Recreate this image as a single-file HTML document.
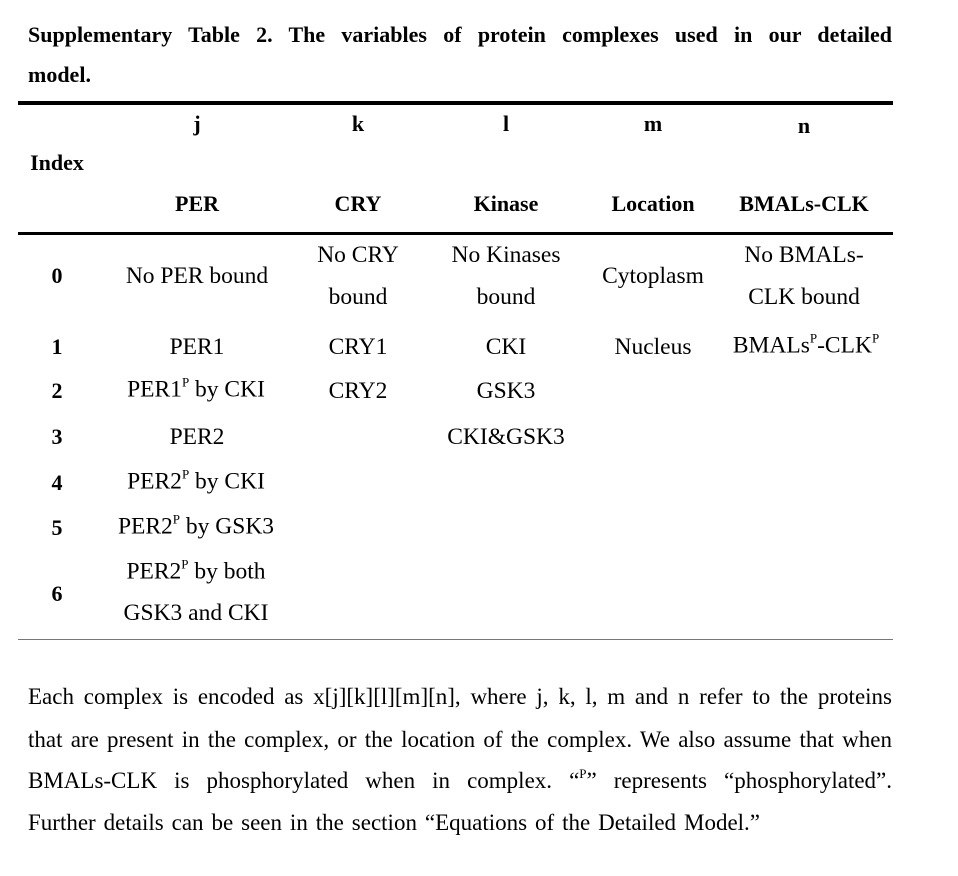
<!DOCTYPE html>
<html><head><meta charset="utf-8"><style>
body{margin:0;width:958px;height:876px;background:#fff;position:relative;font-family:"Liberation Serif",serif;color:#000;overflow:hidden}
.t{position:absolute;white-space:nowrap;font-size:23.5px;line-height:26px;transform:translate(-50%,-50%)}
.t.b{font-size:22px}
.l{position:absolute;font-size:21px;line-height:24px;white-space:nowrap}
.b{font-weight:bold}
sup{font-size:13px;vertical-align:0;position:relative;top:-10px}
.rule{position:absolute;left:18px;width:875px;background:#000}
.j{position:absolute;left:28px;width:864px;font-size:22px;text-align:justify;text-align-last:justify;white-space:nowrap}
.p{position:absolute;left:28px;font-size:23px;line-height:28px;white-space:nowrap;transform-origin:0 0;display:inline-block}
</style></head><body>
<div class="j b" style="top:22px;line-height:26px">Supplementary Table 2. The variables of protein complexes used in our detailed</div>
<div class="l b" style="left:28px;top:63px;font-size:22px">model.</div>
<div class="rule" style="top:101px;height:4px"></div>
<div class="t b" style="left:197px;top:124px">j</div>
<div class="t b" style="left:358px;top:124px">k</div>
<div class="t b" style="left:506px;top:124px">l</div>
<div class="t b" style="left:653px;top:124px">m</div>
<div class="t b" style="left:804px;top:126px">n</div>
<div class="t b" style="left:57px;top:163px">Index</div>
<div class="t b" style="left:197px;top:204px">PER</div>
<div class="t b" style="left:358px;top:204px">CRY</div>
<div class="t b" style="left:506px;top:204px">Kinase</div>
<div class="t b" style="left:653px;top:204px">Location</div>
<div class="t b" style="left:804px;top:204px">BMALs-CLK</div>
<div class="rule" style="top:232px;height:3px"></div>

<div class="t b" style="left:57px;top:276px">0</div>
<div class="t" style="left:197px;top:276px">No PER bound</div>
<div class="t" style="left:358px;top:255px">No CRY</div>
<div class="t" style="left:358px;top:297px">bound</div>
<div class="t" style="left:506px;top:255px">No Kinases</div>
<div class="t" style="left:506px;top:297px">bound</div>
<div class="t" style="left:653px;top:276px">Cytoplasm</div>
<div class="t" style="left:804px;top:255px">No BMALs-</div>
<div class="t" style="left:804px;top:297px">CLK bound</div>

<div class="t b" style="left:57px;top:347px">1</div>
<div class="t" style="left:197px;top:347px">PER1</div>
<div class="t" style="left:358px;top:347px">CRY1</div>
<div class="t" style="left:506px;top:347px">CKI</div>
<div class="t" style="left:653px;top:347px">Nucleus</div>
<div class="t" style="left:806px;top:347px">BMALs<sup>P</sup>-CLK<sup>P</sup></div>

<div class="t b" style="left:57px;top:391px">2</div>
<div class="t" style="left:196px;top:391px">PER1<sup>P</sup> by CKI</div>
<div class="t" style="left:358px;top:391px">CRY2</div>
<div class="t" style="left:506px;top:391px">GSK3</div>

<div class="t b" style="left:57px;top:437px">3</div>
<div class="t" style="left:197px;top:437px">PER2</div>
<div class="t" style="left:506px;top:437px">CKI&amp;GSK3</div>

<div class="t b" style="left:57px;top:483px">4</div>
<div class="t" style="left:196px;top:483px">PER2<sup>P</sup> by CKI</div>
<div class="t b" style="left:57px;top:528px">5</div>
<div class="t" style="left:196px;top:528px">PER2<sup>P</sup> by GSK3</div>
<div class="t b" style="left:57px;top:594px">6</div>
<div class="t" style="left:196px;top:573px">PER2<sup>P</sup> by both</div>
<div class="t" style="left:196px;top:613px">GSK3 and CKI</div>
<div class="rule" style="top:639px;height:1px;background:#777"></div>

<div class="p" data-w="864" style="top:683px">Each complex is encoded as x[j][k][l][m][n], where j, k, l, m and n refer to the proteins</div>
<div class="p" data-w="864" style="top:726px">that are present in the complex, or the location of the complex. We also assume that when</div>
<div class="p" data-w="864" style="top:767px">BMALs-CLK is phosphorylated when in complex. “<sup>P</sup>” represents “phosphorylated”.</div>
<div class="p" data-w="732" style="top:809px">Further details can be seen in the section “Equations of the Detailed Model.”</div>
<script>
document.querySelectorAll('.p').forEach(function(e){
  var w=e.getBoundingClientRect().width;
  var target=+e.getAttribute('data-w');
  var spaces=(e.textContent.match(/ /g)||[]).length;
  if(w<target){
    e.style.wordSpacing=((target-w)/spaces)+'px';
  } else {
    e.style.transform='scaleX('+(target/w)+')';
  }
});
</script>
</body></html>
